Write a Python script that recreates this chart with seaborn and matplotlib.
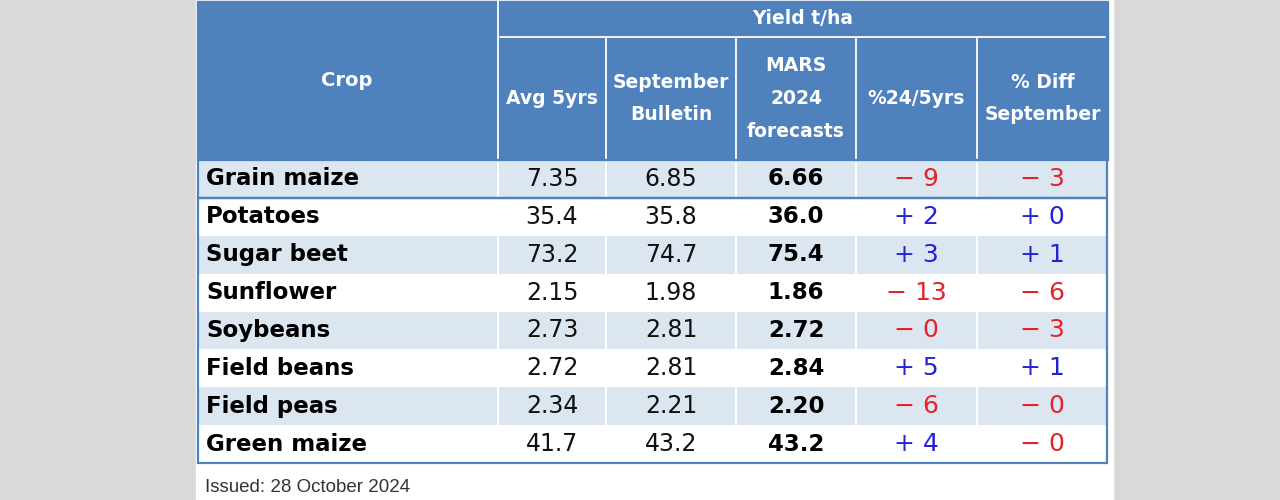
import numpy as np
import matplotlib.pyplot as plt
import seaborn as sns
from matplotlib.patches import Rectangle

# datos de la tabla
crops = ["Grain maize", "Potatoes", "Sugar beet", "Sunflower", "Soybeans",
         "Field beans", "Field peas", "Green maize"]
avg_5yrs = [7.35, 35.4, 73.2, 2.15, 2.73, 2.72, 2.34, 41.7]
sept_bulletin = [6.85, 35.8, 74.7, 1.98, 2.81, 2.81, 2.21, 43.2]
mars_2024 = [6.66, 36.0, 75.4, 1.86, 2.72, 2.84, 2.20, 43.2]
pct_24_5yrs = [-9, 2, 3, -13, -0.0, 5, -6, 4]
pct_diff_sept = [-3, 0, 1, -6, -3, 1, -0.0, -0.0]

col_labels = ["Crop", "Avg 5yrs", "September\nBulletin", "MARS\n2024\nforecasts",
              "%24/5yrs", "% Diff\nSeptember"]
group_label = "Yield t/ha"
note = "Issued: 28 October 2024"

sns.set_theme(style="white")
plt.rcParams['font.family'] = ['DejaVu Sans']

azul = "#4f81bd"
franja = "#dce6f1"
gris = "#d9d9d9"
rojo = "#e3232b"
azul_txt = "#2323d4"

W, H = 1280, 500
bordes = [197, 498, 606, 736, 856, 977, 1108]
top_cuerpo, bot_cuerpo = 160, 463

fig = plt.figure(figsize=(W / 100, H / 100), dpi=100)
fig.patch.set_facecolor(gris)

# fondo y encabezado (coordenadas en pixeles)
ax = fig.add_axes([0, 0, 1, 1])
ax.set_xlim(0, W)
ax.set_ylim(H, 0)
ax.axis("off")
ax.add_patch(Rectangle((196, 0), 917, H, color="white", zorder=0))
ax.add_patch(Rectangle((197, 1), 911, 159, color=azul, zorder=1))
ax.plot([498, 498], [1, 160], color="white", lw=1.3, zorder=2)
ax.plot([500, 1105], [37, 37], color="white", lw=1.3, zorder=2)
for x in bordes[2:-1]:
    ax.plot([x, x], [37, 160], color="white", lw=1.3, zorder=2)

ax.text(347, 80, col_labels[0], ha="center", va="center", color="white",
        fontsize=14, fontweight="bold", zorder=3)
ax.text(803, 18, group_label, ha="center", va="center", color="white",
        fontsize=13.5, fontweight="bold", zorder=3)
for j in range(1, 6):
    cx = (bordes[j] + bordes[j + 1]) / 2
    lineas = col_labels[j].split("\n")
    for k, linea in enumerate(lineas):
        y = 98.5 + (k - (len(lineas) - 1) / 2) * 33
        ax.text(cx, y, linea, ha="center", va="center", color="white",
                fontsize=13.5, fontweight="bold", zorder=3)

ax.text(205, 488, note, ha="left", va="center", color="#333333",
        fontsize=13.5, family=["Liberation Sans", "DejaVu Sans"])

# cuerpo de la tabla
ax_t = fig.add_axes([bordes[0] / W, (H - bot_cuerpo) / H,
                     (bordes[-1] - bordes[0]) / W, (bot_cuerpo - top_cuerpo) / H])
ax_t.set_xlim(bordes[0], bordes[-1])
ax_t.set_ylim(len(crops) - 0.5, -0.5)
ax_t.axis("off")
ax_t.patch.set_alpha(0)

filas = np.arange(len(crops))
colores = [franja if i % 2 == 0 else "white" for i in filas]
for j in range(6):
    ax_t.barh(filas, bordes[j + 1] - bordes[j] - 2, left=bordes[j] + 1,
              height=1, color=colores, linewidth=0)

def fmt_val(v):
    return f"{v:.2f}" if v < 10 else f"{v:.1f}"

def fmt_pct(v):
    neg = np.signbit(v)
    signo = "\u2212" if neg else "+"
    return f"{signo} {abs(v):.0f}", (rojo if neg else azul_txt)

centros = [(bordes[j] + bordes[j + 1]) / 2 for j in range(6)]
for i in filas:
    ax_t.text(206, i, crops[i], ha="left", va="center", fontsize=16.5,
              fontweight="bold", color="black")
    ax_t.text(centros[1], i, fmt_val(avg_5yrs[i]), ha="center", va="center",
              fontsize=17, color="#111111")
    ax_t.text(centros[2], i, fmt_val(sept_bulletin[i]), ha="center", va="center",
              fontsize=17, color="#111111")
    ax_t.text(centros[3], i, fmt_val(mars_2024[i]), ha="center", va="center",
              fontsize=16.5, fontweight="bold", color="black")
    t, c = fmt_pct(pct_24_5yrs[i])
    ax_t.text(centros[4], i, t, ha="center", va="center", fontsize=18, color=c)
    t, c = fmt_pct(pct_diff_sept[i])
    ax_t.text(centros[5], i, t, ha="center", va="center", fontsize=18, color=c)

# bordes azules
ax_t.add_patch(Rectangle((bordes[0] + 1, -0.5), bordes[-1] - bordes[0] - 2, 1,
                         fill=False, ec=azul, lw=1.6, clip_on=False))
ax_t.add_patch(Rectangle((bordes[0] + 1, 0.5), bordes[-1] - bordes[0] - 2, 7,
                         fill=False, ec=azul, lw=1.6, clip_on=False))

fig.savefig("out.png", dpi=100, facecolor=fig.get_facecolor())
